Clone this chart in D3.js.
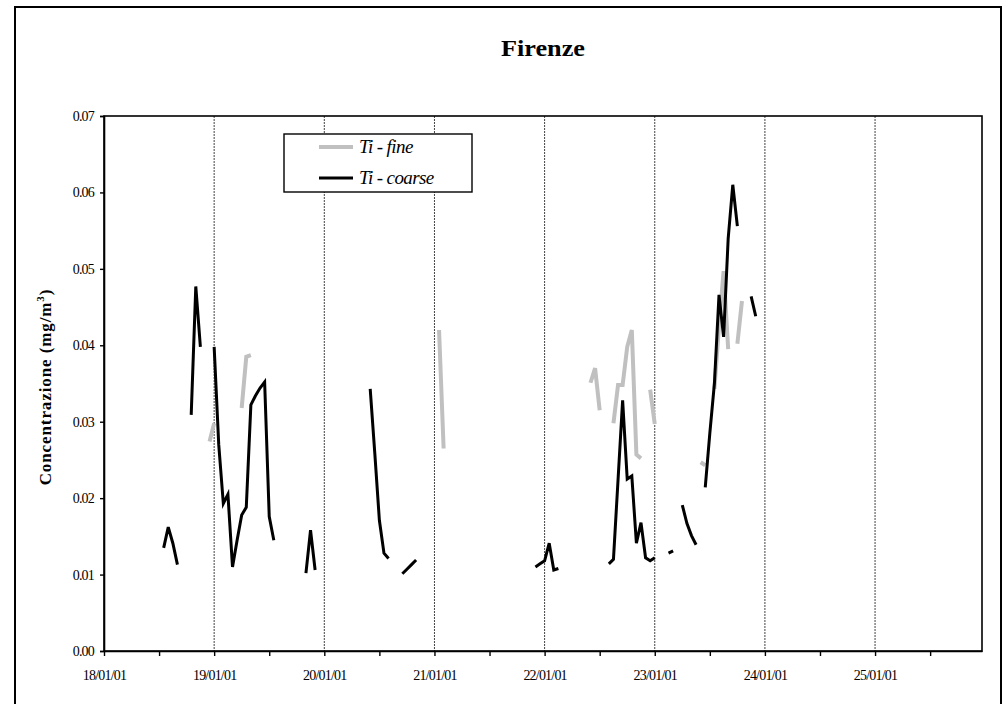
<!DOCTYPE html>
<html>
<head>
<meta charset="utf-8">
<script src="https://cdn.jsdelivr.net/npm/d3@7"></script>
<style>
  html, body { margin: 0; padding: 0; background: #fff; }
  svg { display: block; }
  text { font-family: "Liberation Serif", "Times New Roman", serif; }
</style>
</head>
<body>
<svg id="chart" width="1007" height="704"></svg>
<script>
// ---------------- DATA ----------------
const title = "Firenze";
const yLabel = "Concentrazione (mg/m";
const seriesNames = ["Ti - fine", "Ti - coarse"];
const xTickLabels = ["18/01/01", "19/01/01", "20/01/01", "21/01/01", "22/01/01", "23/01/01", "24/01/01", "25/01/01"];
const yTicks = [0, 0.01, 0.02, 0.03, 0.04, 0.05, 0.06, 0.07];

// hours since 18/01/01 00:00 (null = gap)
const coarseHours = [13, 14, 15, 16, null,
  19, 20, 21, null,
  24, 25, 26, 27, 28, 29, 30, 31, 32, 33, 34, 35, 36, 37, null,
  44, 45, 46, null,
  58, 59, 60, 61, 62, null,
  65, 66, 67, 68, null,
  94, 95, 96, 97, 98, 99, null,
  110, 111, 112, 113, 114, 115, 116, 117, 118, 119, 120, null,
  123, 124, null,
  126, 127, 128, 129, null,
  131, 132, 133, 134, 135, 136, 137, 138, null,
  141, 142];
const coarseValues = [0.0135, 0.0162, 0.0141, 0.0113, null,
  0.0309, 0.0477, 0.0398, null,
  0.0398, 0.0270, 0.0193, 0.0205, 0.0110, 0.0145, 0.0178, 0.0188, 0.0322, 0.0334, 0.0344, 0.0352, 0.0176, 0.0145, null,
  0.0102, 0.0158, 0.0106, null,
  0.0343, 0.0259, 0.0171, 0.0128, 0.0121, null,
  0.0101, 0.0107, 0.0113, 0.0119, null,
  0.0110, 0.0114, 0.0118, 0.0141, 0.0106, 0.0108, null,
  0.0114, 0.0120, 0.0224, 0.0328, 0.0225, 0.0229, 0.0141, 0.0168, 0.0122, 0.0118, 0.0122, null,
  0.0128, 0.0131, null,
  0.0191, 0.0167, 0.0151, 0.0139, null,
  0.0214, 0.0285, 0.0350, 0.0466, 0.0411, 0.0540, 0.0610, 0.0556, null,
  0.0464, 0.0438];

const fineHours = [23, 24, null,
  30, 31, 32, null,
  73, 74, null,
  106, 107, 108, null,
  111, 112, 113, 114, 115, 116, 117, null,
  119, 120, null,
  130, 131, null,
  133, 134, 135, 136, null,
  138, 139];
const fineValues = [0.0274, 0.0298, null,
  0.0318, 0.0385, 0.0387, null,
  0.0420, 0.0265, null,
  0.0351, 0.0370, 0.0315, null,
  0.0298, 0.0348, 0.0348, 0.0398, 0.0420, 0.0257, 0.0252, null,
  0.0342, 0.0297, null,
  0.0247, 0.0243, null,
  0.0343, 0.0425, 0.0497, 0.0395, null,
  0.0402, 0.0458];

// ---------------- LAYOUT ----------------
const svg = d3.select("#chart");
const L = 104, R = 982, T = 116, B = 651;
const x = d3.scaleLinear().domain([0, 191.3]).range([L, R]);
const y = d3.scaleLinear().domain([0, 0.07]).range([B, T]);

// outer frame
svg.append("rect").attr("x", 15).attr("y", 7).attr("width", 986).attr("height", 720)
  .attr("fill", "none").attr("stroke", "#000").attr("stroke-width", 2);

// title
svg.append("text").attr("x", 543).attr("y", 56).attr("text-anchor", "middle")
  .attr("font-size", 24).attr("font-weight", "bold")
  .attr("textLength", 84).attr("lengthAdjust", "spacingAndGlyphs").text(title);

// gridlines (day boundaries)
const dayHours = d3.range(1, 8).map(d => d * 24);
svg.append("g").selectAll("line").data(dayHours).join("line")
  .attr("x1", d => x(d)).attr("x2", d => x(d)).attr("y1", T).attr("y2", B)
  .attr("stroke", "#444").attr("stroke-width", 1).attr("stroke-dasharray", "2,1");

// plot border
svg.append("rect").attr("x", L).attr("y", T).attr("width", R - L).attr("height", B - T)
  .attr("fill", "none").attr("stroke", "#000").attr("stroke-width", 1.6);

// y axis
const yAxis = d3.axisLeft(y).tickValues(yTicks).tickFormat(d3.format(".2f")).tickSize(4).tickPadding(6);
const gy = svg.append("g").attr("transform", `translate(${L},0)`).call(yAxis);
gy.select(".domain").attr("stroke-width", 1.6);
gy.selectAll(".tick line").attr("stroke-width", 1.4);
gy.selectAll("text").attr("font-family", "Liberation Serif").attr("font-size", 14)
  .attr("letter-spacing", -0.8).attr("fill", "#000");

// x axis: major ticks with labels at days, minor ticks at half days
const majorHours = d3.range(0, 8).map(d => d * 24);
const xAxis = d3.axisBottom(x).tickValues(majorHours)
  .tickFormat((d, i) => xTickLabels[i]).tickSize(5).tickPadding(14).tickSizeOuter(0);
const gx = svg.append("g").attr("transform", `translate(0,${B})`).call(xAxis);
gx.select(".domain").attr("stroke-width", 1.6);
gx.selectAll(".tick line").attr("stroke-width", 1.4);
gx.selectAll("text").attr("font-family", "Liberation Serif").attr("font-size", 14)
  .attr("letter-spacing", -0.8).attr("fill", "#000");
const minorHours = d3.range(0, 8).map(d => d * 24 + 12);
const xMinor = d3.axisBottom(x).tickValues(minorHours).tickFormat("").tickSize(5).tickSizeOuter(0);
const gm = svg.append("g").attr("transform", `translate(0,${B})`).call(xMinor);
gm.select(".domain").remove();
gm.selectAll(".tick line").attr("stroke-width", 1.4);

// y label
const yl = svg.append("text").attr("transform", "translate(51,387) rotate(-90)")
  .attr("text-anchor", "middle").attr("font-size", 17).attr("font-weight", "bold")
  .attr("letter-spacing", 0.9);
yl.append("tspan").text(yLabel);
yl.append("tspan").attr("dy", -7).attr("font-size", 11).text("3");
yl.append("tspan").attr("dy", 7).text(")");

// series
function toPts(h, v) { return h.map((d, i) => ({ h: d, v: v[i] })); }
const line = d3.line().defined(d => d.h != null && d.v != null).x(d => x(d.h)).y(d => y(d.v));
svg.append("path").datum(toPts(fineHours, fineValues)).attr("d", line)
  .attr("fill", "none").attr("stroke", "#c0c0c0").attr("stroke-width", 4);
svg.append("path").datum(toPts(coarseHours, coarseValues)).attr("d", line)
  .attr("fill", "none").attr("stroke", "#000").attr("stroke-width", 3);

// legend
const lg = svg.append("g");
lg.append("rect").attr("x", 284).attr("y", 134).attr("width", 188).attr("height", 58)
  .attr("fill", "#fff").attr("stroke", "#000").attr("stroke-width", 1.4);
const legColors = ["#c0c0c0", "#000"];
const legWidths = [4, 3];
seriesNames.forEach((n, i) => {
  const yy = 147 + i * 31;
  lg.append("line").attr("x1", 319).attr("x2", 353).attr("y1", yy).attr("y2", yy)
    .attr("stroke", legColors[i]).attr("stroke-width", legWidths[i]);
  lg.append("text").attr("x", 359).attr("y", yy + 6).attr("font-size", 19)
    .attr("font-style", "italic").attr("letter-spacing", -0.6).text(n);
});
</script>
</body>
</html>
